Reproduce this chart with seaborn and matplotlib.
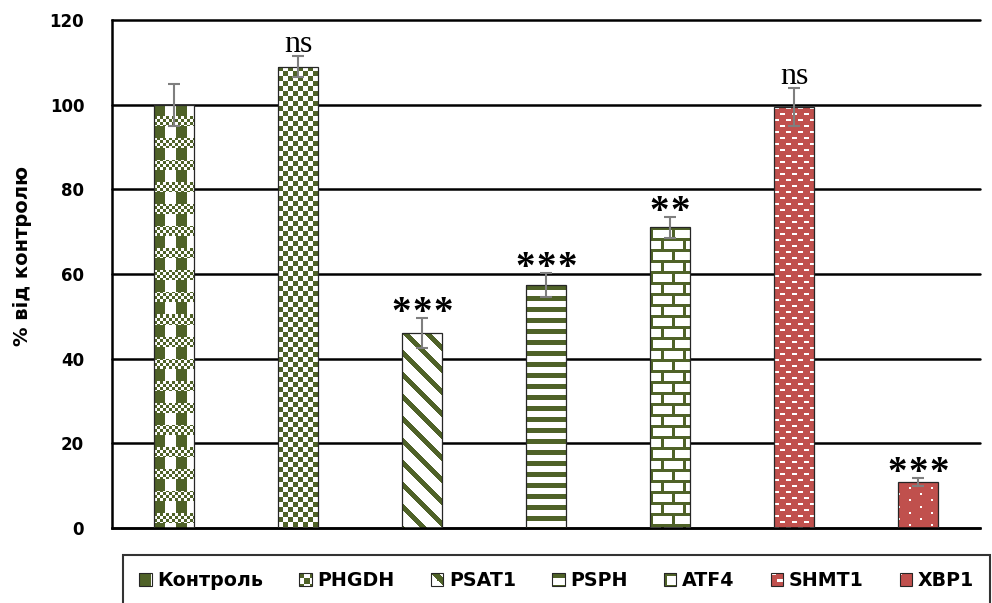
import numpy as np
import pandas as pd
import matplotlib
matplotlib.use("Agg")
import matplotlib.pyplot as plt
import seaborn as sns
from matplotlib.image import AxesImage, BboxImage
from matplotlib.legend_handler import HandlerBase
from matplotlib.patches import Patch, Rectangle
from matplotlib.transforms import Bbox, TransformedBbox

# ---- data -------------------------------------------------------------
genes = ["Контроль", "PHGDH", "PSAT1", "PSPH", "ATF4", "SHMT1", "XBP1"]
values = [100.0, 109.0, 46.0, 57.4, 71.0, 99.4, 10.9]
errors = [5.0, 2.4, 3.5, 2.8, 2.4, 4.5, 1.0]
marks = ["", "ns", "***", "***", "**", "ns", "***"]
y_ticks = [0, 20, 40, 60, 80, 100, 120]
y_label = "% від контролю"

GREEN = (0x4F / 255, 0x62 / 255, 0x28 / 255)
RED = (0xC0 / 255, 0x50 / 255, 0x4D / 255)
WHITE = (1.0, 1.0, 1.0)


def pattern(name, h, w):
    """Return (mask, fg, bg) for the fill pattern of one gene."""
    yy, xx = np.indices((h, w))
    if name == "Контроль":
        band = (yy % 22) >= 12
        checker = ((xx // 3 + yy // 3) % 2) == 0
        stripes = (xx % 22) < 11
        return np.where(band, checker, stripes), GREEN, WHITE
    if name == "PHGDH":
        return ((xx // 5 + yy // 5) % 2) == 0, GREEN, WHITE
    if name == "PSAT1":
        return ((xx - yy) % 22) < 7, GREEN, WHITE
    if name == "PSPH":
        return (yy % 11) < 5, GREEN, WHITE
    if name == "ATF4":
        row = yy // 11
        horiz = (yy % 11) < 3
        vert = ((xx + (row % 2) * 11) % 22) < 3
        return horiz | vert, GREEN, WHITE
    if name == "SHMT1":
        row = yy // 6
        dash = ((yy % 6) < 2) & (((xx + (row % 2) * 6) % 12) < 5)
        return dash, WHITE, RED
    # XBP1
    col = xx // 11
    dot = ((xx % 11) < 2) & (((yy + (col % 2) * 6) % 12) < 2)
    return dot, WHITE, RED


def texture(name, h, w):
    mask, fg, bg = pattern(name, h, w)
    img = np.empty((h, w, 4))
    img[..., :3] = np.where(mask[..., None], fg, bg)
    img[..., 3] = 1.0
    return img


class TextureHandler(HandlerBase):
    def __init__(self, name):
        super().__init__()
        self.name = name

    def create_artists(self, legend, orig_handle, xdescent, ydescent,
                       width, height, fontsize, trans):
        side = min(width, height)
        x0 = -xdescent + (width - side) / 2
        y0 = -ydescent + (height - side) / 2
        box = TransformedBbox(Bbox.from_bounds(x0, y0, side, side), trans)
        img = BboxImage(box, interpolation="nearest", origin="upper")
        n = max(int(round(side * legend.figure.dpi / 72)), 4)
        img.set_data(texture(self.name, n, n))
        edge = Rectangle((x0, y0), side, side, transform=trans,
                         facecolor="none", edgecolor="#262626", linewidth=0.8)
        return [img, edge]


# ---- figure -----------------------------------------------------------
sns.set_theme(style="white")
plt.rcParams["font.family"] = ["DejaVu Sans"]
plt.rcParams["font.weight"] = "bold"
plt.rcParams["text.color"] = "black"

fig = plt.figure(figsize=(9.92, 6.03), dpi=100)
ax = fig.add_axes([112 / 992, 75 / 603, 868 / 992, 508 / 603])

df = pd.DataFrame({"gene": genes, "value": values})
sns.barplot(data=df, x="gene", y="value", hue="gene", hue_order=genes,
            palette=["white"] * len(genes), width=0.32, errorbar=None,
            legend=False, ax=ax)

ax.set_xlim(-0.5, len(genes) - 0.5)
ax.set_ylim(0, 120)
ax.set_yticks(y_ticks)
fig.canvas.draw()

# patterned fills clipped to each bar
centers = []
for p in ax.patches:
    idx = int(round(p.get_x() + p.get_width() / 2))
    name = genes[idx]
    ext = p.get_window_extent()
    w_px = max(int(round(ext.width)), 1)
    h_px = max(int(round(ext.height)), 1)
    im = AxesImage(ax, interpolation="nearest", origin="upper",
                   extent=(p.get_x(), p.get_x() + p.get_width(),
                           p.get_y(), p.get_y() + p.get_height()))
    im.set_data(texture(name, h_px, w_px))
    im.set_zorder(2)
    im.set_clip_path(p)
    ax.add_image(im)
    p.set_facecolor("none")
    p.set_edgecolor("#262626")
    p.set_linewidth(0.9)
    p.set_zorder(3)
    centers.append((idx, p.get_x() + p.get_width() / 2))

centers.sort()
xs = [c for _, c in centers]

ax.errorbar(xs, values, yerr=errors, fmt="none", ecolor="#7f7f7f",
            elinewidth=1.5, capsize=4, capthick=1.5, zorder=5)

# significance marks; asterisks are spaced one by one
STAR_STEP = 15.0  # points between asterisk centres
for x, v, e, m in zip(xs, values, errors, marks):
    if not m:
        continue
    if m == "ns":
        ax.annotate(m, xy=(x, v + e), xytext=(0, -2), textcoords="offset points",
                    ha="center", va="bottom", fontsize=23, color="black",
                    family="Liberation Serif", fontweight="normal", zorder=6)
    else:
        k = len(m)
        for j in range(k):
            dx = (j - (k - 1) / 2) * STAR_STEP
            ax.annotate("*", xy=(x, v + e), xytext=(dx, -10),
                        textcoords="offset points", ha="center", va="bottom",
                        fontsize=28, color="black", family="Liberation Serif",
                        fontweight="bold", zorder=6)

ax.set_xlim(-0.5, len(genes) - 0.5)
ax.set_ylim(0, 120)

# axes styling
ax.grid(axis="y", color="black", linewidth=1.8)
ax.set_axisbelow(True)
for gl in ax.get_ygridlines():
    gl.set_clip_on(False)
for s in ("top", "right"):
    ax.spines[s].set_visible(False)
for s in ("left", "bottom"):
    ax.spines[s].set_color("black")
    ax.spines[s].set_linewidth(1.8)
ax.tick_params(axis="x", length=0, labelbottom=False)
ax.tick_params(axis="y", length=0, pad=20, labelsize=12, colors="black")
for lbl in ax.get_yticklabels():
    lbl.set_fontweight("bold")
ax.set_xlabel("")
ax.set_ylabel(y_label, fontsize=14, fontweight="bold", color="black")
ax.yaxis.label.set_verticalalignment("center")
ax.yaxis.set_label_coords((23 - 112) / 868, (528 - 255.5) / 508)

# legend below the plot
handles = [Patch(label=g) for g in genes]
hmap = {h: TextureHandler(g) for h, g in zip(handles, genes)}
leg = ax.legend(handles=handles, labels=genes, handler_map=hmap, ncol=len(genes),
                loc="upper left", bbox_to_anchor=(123 / 992, 0, 867 / 992, 1 - 555 / 603),
                bbox_transform=fig.transFigure, mode="expand", borderaxespad=0,
                borderpad=0.85, handlelength=0.65, handleheight=0.65,
                handletextpad=0.3, fancybox=False, frameon=True,
                prop={"family": "DejaVu Sans", "weight": "bold", "size": 13.7})
leg.get_frame().set_edgecolor("black")
leg.get_frame().set_linewidth(1.5)
for t in leg.get_texts():
    t.set_color("black")

fig.savefig("out.png", dpi=100)
